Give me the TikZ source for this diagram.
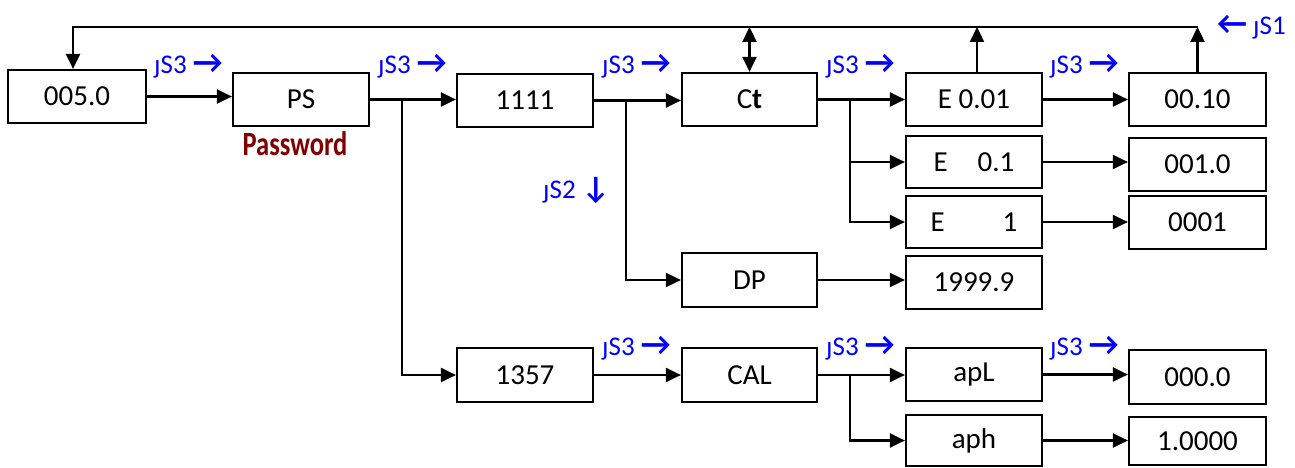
\documentclass[tikz,border=0pt]{standalone}
\usepackage{fontspec}
\setmainfont{Carlito}
\usetikzlibrary{arrows.meta,calc}
\definecolor{pwred}{RGB}{128,0,0}
\newcommand\rar{{\bfseries\fontsize{33}{33}\selectfont →}}
\newcommand\lar{{\bfseries\fontsize{33}{33}\selectfont ←}}
\newcommand\dar{{\bfseries\fontsize{31}{31}\selectfont ↓}}
\begin{document}
\begin{tikzpicture}[x=1pt,y=-1pt,
  box/.style={draw, line width=2.2pt, inner sep=0pt, font=\fontsize{29}{29}\selectfont},
  arr/.style={line width=2.3pt, -{Triangle[length=15pt,width=14pt]}},
  darr/.style={line width=2.3pt, {Triangle[length=15pt,width=14pt]}-{Triangle[length=15pt,width=14pt]}},
  lab/.style={text=blue, font=\fontsize{27}{27}\selectfont, inner sep=0pt, anchor=base west}]
\useasboundingbox (0,0) rectangle (1295,468);
% boxes
\node[box, minimum width=138pt, minimum height=53pt] (n0) at (77,96.5) {005.0};
\node[box, minimum width=136pt, minimum height=53pt] (ps) at (301,99.5) {PS};
\node[box, minimum width=136pt, minimum height=53pt] (n1111) at (525,100.5) {1111};
\node[box, minimum width=135pt, minimum height=53pt] (ct) at (749.5,99.5) {C{\bfseries t}};
\node[box, minimum width=136pt, minimum height=53pt] (e001) at (974,99.5) {E 0.01};
\node[box, minimum width=137pt, minimum height=53pt] (n0010) at (1197.5,99.5) {00.10};
\node[box, minimum width=136pt, minimum height=52pt] (e01) at (974,162) {E\hspace{30pt}0.1};
\node[box, minimum width=137pt, minimum height=53pt] (n010) at (1197.5,164.5) {001.0};
\node[box, minimum width=136pt, minimum height=52pt] (e1) at (974,222) {E\hspace{58pt}1};
\node[box, minimum width=137pt, minimum height=53pt] (n0001) at (1197.5,222.5) {0001};
\node[box, minimum width=135pt, minimum height=54pt] (dp) at (749.5,280) {DP};
\node[box, minimum width=136pt, minimum height=53pt] (n1999) at (974,282.5) {1999.9};
\node[box, minimum width=136pt, minimum height=54pt] (n1357) at (525,375) {1357};
\node[box, minimum width=135pt, minimum height=54pt] (cal) at (749.5,375) {CAL};
\node[box, minimum width=136pt, minimum height=53pt] (apl) at (974,374.5) {apL};
\node[box, minimum width=137pt, minimum height=54pt] (n0000) at (1197.5,377) {000.0};
\node[box, minimum width=136pt, minimum height=51pt] (aph) at (974,440.5) {aph};
\node[box, minimum width=137pt, minimum height=48pt] (n10000) at (1197.5,441) {1.0000};
% main row
\draw[arr] (n0.east) -- (n0.east -| ps.west);
\draw[arr] (ps.east) -- (ps.east -| n1111.west);
\draw[arr] (n1111.east) -- (n1111.east -| ct.west);
\draw[arr] (ct.east) -- (ct.east -| e001.west);
\draw[arr] (e001.east) -- (e001.east -| n0010.west);
% branches
\coordinate (b1) at ($(ps.east)+(32,0)$);
\draw[arr] (b1) |- (n1357.west);
\coordinate (b2) at ($(n1111.east)+(32,0)$);
\draw[arr] (b2) |- (dp.west);
\coordinate (b3) at ($(ct.east)+(32,0)$);
\draw[arr] (b3) |- (e01.west);
\draw[arr] (b3) |- (e1.west);
\coordinate (b4) at ($(cal.east)+(32,0)$);
\draw[arr] (b4) |- (aph.west);
% other horizontal arrows
\draw[arr] (e01.east) -- (e01.east -| n010.west);
\draw[arr] (e1.east) -- (e1.east -| n0001.west);
\draw[arr] (dp.east) -- (dp.east -| n1999.west);
\draw[arr] (n1357.east) -- (n1357.east -| cal.west);
\draw[arr] (cal.east) -- (cal.east -| apl.west);
\draw[arr] (apl.east) -- (apl.east -| n0000.west);
\draw[arr] (aph.east) -- (aph.east -| n10000.west);
% top return line
\coordinate (t) at (0,27);
\coordinate (n0in) at ($(n0.north)+(-4,0)$);
\draw[arr] (n0010.north) -- (n0010.north |- t);
\draw[arr] ($(e001.north)+(3,0)$) -- ($(e001.north |- t)+(3,0)$);
\draw[arr] (n0010.north |- t) -| (n0in);
\draw[darr] (ct.north |- t) -- (ct.north);
% labels
\node[lab] (s3a) at (154,74) {ȷS3 \rar};
\node[lab] (s3b) at (378,74) {ȷS3 \rar};
\node[lab] (s3c) at (602,74) {ȷS3 \rar};
\node[lab] (s3d) at (826,74) {ȷS3 \rar};
\node[lab] (s3e) at (1050,74) {ȷS3 \rar};
\node[lab] (s3f) at (602,355) {ȷS3 \rar};
\node[lab] (s3g) at (826,355) {ȷS3 \rar};
\node[lab] (s3h) at (1050,355) {ȷS3 \rar};
\node[lab] (s2) at (543,198) {ȷS2 \dar};
\node[lab] (s1) at (1217,35) {\lar{} ȷS1};
\node[text=pwred, inner sep=0pt, anchor=base, font=\bfseries\fontsize{34}{34}\selectfont] (pw) at (295,155) {\scalebox{0.78}[1]{Password}};
\end{tikzpicture}
\end{document}
